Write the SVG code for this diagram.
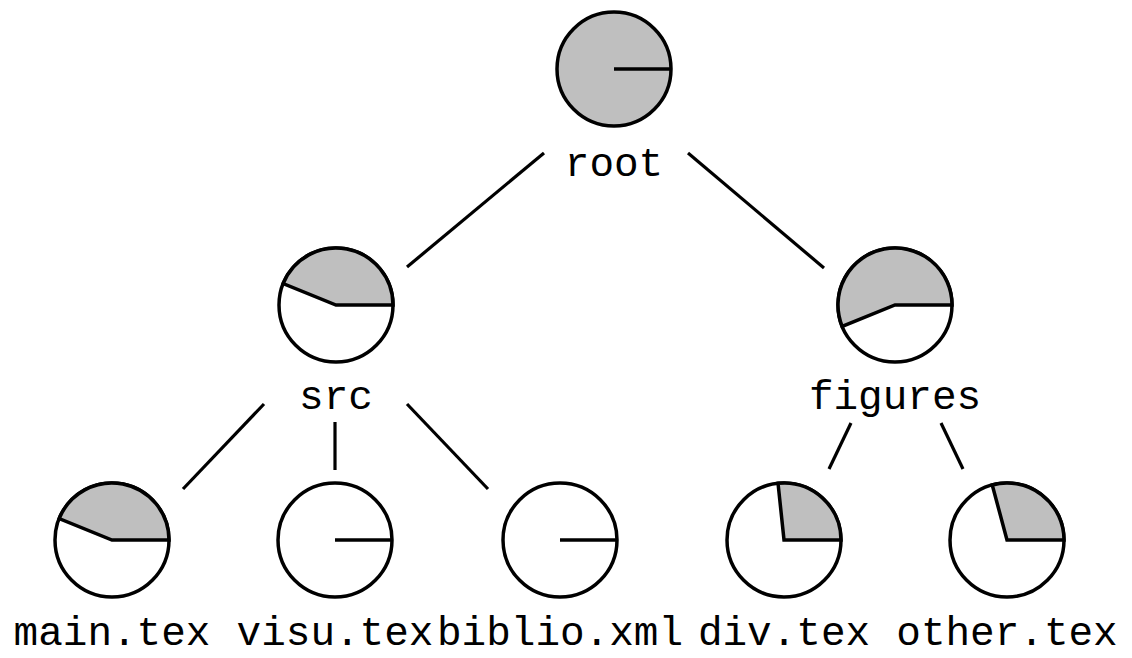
<svg xmlns="http://www.w3.org/2000/svg" width="1132" height="658" viewBox="0 0 1132 658">
<style>
.bg{fill:#ffffff}
.disk{fill:#ffffff;stroke:#000;stroke-width:3.5}
.full{fill:#bfbfbf;stroke:#000;stroke-width:3.5}
.wedge{fill:#bfbfbf;stroke:#000;stroke-width:3.5;stroke-linejoin:miter}
.rad{stroke:#000;stroke-width:3.5;fill:none}
.edge{stroke:#000;stroke-width:3.2;fill:none}
.lbl{font-family:"Liberation Mono","Courier New",monospace;font-size:41px;fill:#000;text-anchor:middle}
</style>
<rect class="bg" x="0" y="0" width="1132" height="658"/>
<g id="connectors">
<line class="edge" x1="544" y1="153" x2="407" y2="267"/>
<line class="edge" x1="688" y1="153" x2="824" y2="268"/>
<line class="edge" x1="264" y1="404" x2="183" y2="489"/>
<line class="edge" x1="335" y1="422" x2="335" y2="470"/>
<line class="edge" x1="407" y1="404" x2="488" y2="489"/>
<line class="edge" x1="851" y1="423" x2="829" y2="469"/>
<line class="edge" x1="941" y1="423" x2="963" y2="469"/>
</g>
<g id="root">
<circle class="full" cx="614" cy="69" r="57"/>
<line class="rad" x1="614" y1="69" x2="671" y2="69"/>
<text class="lbl" x="614" y="176">root</text>
</g>
<g id="src">
<circle class="disk" cx="336" cy="305" r="57"/>
<path class="wedge" d="M336,305 L393,305 A57,57 0 0 0 283.15,283.65 Z"/>
<text class="lbl" x="336" y="409">src</text>
</g>
<g id="figures">
<circle class="disk" cx="895" cy="305" r="57"/>
<path class="wedge" d="M895,305 L952,305 A57,57 0 1 0 842.15,326.35 Z"/>
<text class="lbl" x="895" y="409">figures</text>
</g>
<g id="main.tex">
<circle class="disk" cx="112" cy="540" r="57"/>
<path class="wedge" d="M112,540 L169,540 A57,57 0 0 0 59.15,518.65 Z"/>
<text class="lbl" x="112" y="645">main.tex</text>
</g>
<g id="visu.tex">
<circle class="disk" cx="335" cy="540" r="57"/>
<line class="rad" x1="335" y1="540" x2="392" y2="540"/>
<text class="lbl" x="335" y="645">visu.tex</text>
</g>
<g id="biblio.xml">
<circle class="disk" cx="560" cy="540" r="57"/>
<line class="rad" x1="560" y1="540" x2="617" y2="540"/>
<text class="lbl" x="560" y="645">biblio.xml</text>
</g>
<g id="div.tex">
<circle class="disk" cx="784" cy="540" r="57"/>
<path class="wedge" d="M784,540 L841,540 A57,57 0 0 0 778.04,483.31 Z"/>
<text class="lbl" x="784" y="645">div.tex</text>
</g>
<g id="other.tex">
<circle class="disk" cx="1007" cy="540" r="57"/>
<path class="wedge" d="M1007,540 L1064,540 A57,57 0 0 0 992.25,484.94 Z"/>
<text class="lbl" x="1007" y="645">other.tex</text>
</g>
</svg>
